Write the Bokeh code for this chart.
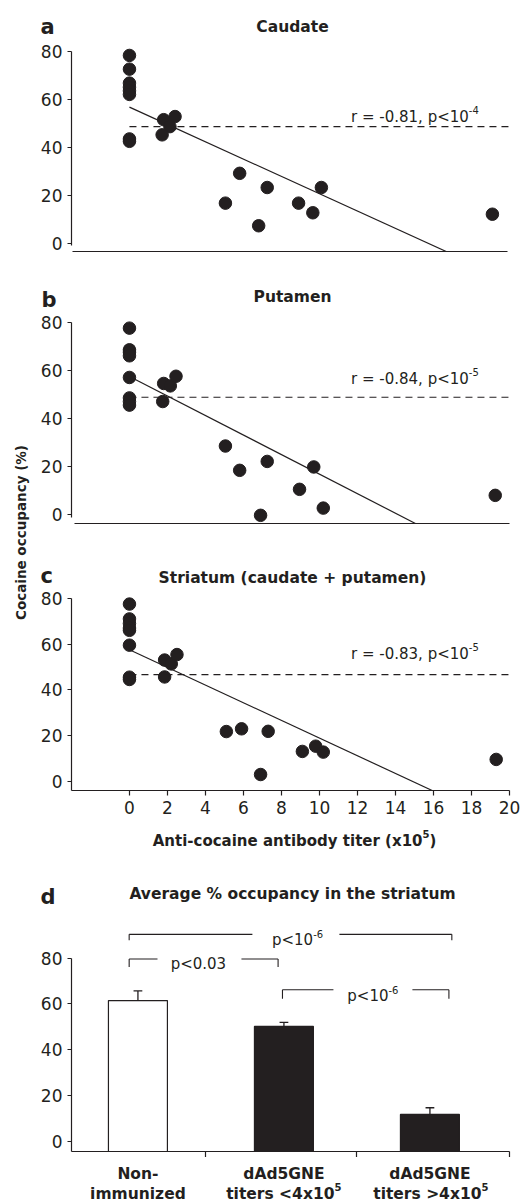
import math
from bokeh.plotting import figure
from bokeh.models import Label, FixedTicker
from bokeh.layouts import column, row
from bokeh.embed import file_html
from bokeh.resources import INLINE

INK = "#231f20"
FONT = "DejaVu Sans"

# ---------------- data: panels a-c ----------------
# x = anti-cocaine antibody titer (x10^5), y = cocaine occupancy (%)
caud_x = [0, 0, 0, 0, 0, 0, 0, 0, 1.8, 2.4, 2.13, 1.72, 5.05, 5.8, 6.8, 7.25, 8.9, 9.65, 10.1, 19.1]
caud_y = [78.2, 72.5, 66.7, 65, 63.5, 62, 43.5, 42.5, 51.5, 52.8, 48.6, 45.2, 16.8, 29.2, 7.4, 23.3, 16.8, 12.8, 23.3, 12.2]
put_x = [0, 0, 0, 0, 0, 0, 0, 0, 1.8, 2.15, 2.45, 1.75, 5.05, 5.8, 6.9, 7.25, 8.95, 9.7, 10.2, 19.25]
put_y = [77.5, 68.5, 67.5, 66, 57, 48.5, 47, 45.5, 54.5, 53.5, 57.5, 47, 28.5, 18.4, -0.3, 22.1, 10.5, 19.8, 2.7, 8.0]
str_x = [0, 0, 0, 0, 0, 0, 0, 0, 1.85, 2.2, 2.5, 1.85, 5.1, 5.9, 6.9, 7.3, 9.1, 9.8, 10.2, 19.3]
str_y = [77.5, 71, 69, 67, 66, 59.5, 45.5, 44.5, 53, 51.3, 55.4, 45.6, 21.7, 22.9, 2.9, 21.8, 13.0, 15.3, 12.7, 9.5]

# regression lines (end points)
fit_a_x = [0, 16.67]
fit_a_y = [56.7, -3.3]
fit_b_x = [0, 15.05]
fit_b_y = [57.4, -3.7]
fit_c_x = [0, 15.93]
fit_c_y = [57.5, -4.1]

# dashed reference level
mean_a = 48.6
mean_b = 48.8
mean_c = 46.6

stat_a = ("r = -0.81, p<10", "-4")
stat_b = ("r = -0.84, p<10", "-5")
stat_c = ("r = -0.83, p<10", "-5")

x_ticks = [0, 2, 4, 6, 8, 10, 12, 14, 16, 18, 20]
y_ticks = [0, 20, 40, 60, 80]

# ---------------- data: panel d ----------------
grp_pos = [0, 1, 2]
grp_line1 = ["Non-", "dAd5GNE", "dAd5GNE"]
grp_line2 = ["immunized", "titers <4x10", "titers >4x10"]
grp_sup = ["", "5", "5"]
bar_vals = [61.5, 50.2, 11.8]
bar_err = [4.2, 1.8, 2.9]
bar_fill = ["white", INK, INK]
grp_bounds = [0.462, 1.5, 2.545]


def label(p, x, y, text, size, bold=False, align="left", baseline="alphabetic",
          angle=0.0, yoff=0):
    p.add_layout(Label(x=x, y=y, text=text,
                       text_font=FONT, text_font_size=f"{size}px",
                       text_font_style="bold" if bold else "normal",
                       text_color=INK, text_align=align, text_baseline=baseline,
                       angle=angle, y_offset=yoff))


def text_fig(w, h, x_range=None, left=0, right=0):
    f = figure(width=w, height=h, x_range=x_range if x_range is not None else (0, w),
               y_range=(0, h), min_border=0, min_border_left=left, min_border_right=right,
               min_border_top=0, min_border_bottom=0,
               x_axis_location=None, y_axis_location=None, frame_align=False,
               output_backend="svg", toolbar_location=None)
    f.grid.visible = False
    f.outline_line_color = None
    return f


def style_y(p, bounds):
    ax = p.yaxis[0]
    ax.ticker = FixedTicker(ticks=y_ticks)
    ax.bounds = bounds
    ax.axis_line_color = INK
    ax.axis_line_width = 1.2
    ax.major_tick_line_color = INK
    ax.major_tick_line_width = 1.2
    ax.major_tick_in = 0
    ax.major_tick_out = 4
    ax.minor_tick_line_color = None
    ax.major_label_standoff = 5
    ax.major_label_text_font = FONT
    ax.major_label_text_font_size = "17px"
    ax.major_label_text_color = INK


def base_fig(width, height, left, bottom, xr, yr, top=0):
    p = figure(width=width, height=height, x_range=xr, y_range=yr,
               min_border_left=left, min_border_right=12,
               min_border_top=top, min_border_bottom=bottom, frame_align=False,
               output_backend="svg", toolbar_location=None)
    p.grid.visible = False
    p.outline_line_color = None
    p.background_fill_color = "white"
    p.border_fill_color = "white"
    return p


def scatter_panel(width, height, left, bottom, yr, xs, ys, fx, fy, mean,
                  xbounds, ybounds, stat, stat_y, show_x=False, top=0):
    p = base_fig(width, height, left, bottom, (-3.05, 20), yr, top=top)
    p.line([0, 20], [mean, mean], line_color=INK, line_width=1.1, line_dash="7 5")
    p.line(fx, fy, line_color=INK, line_width=1.2)
    p.scatter(xs, ys, size=12.5, fill_color=INK, line_color=INK)
    style_y(p, ybounds)
    ax = p.xaxis[0]
    ax.bounds = xbounds
    ax.axis_line_color = INK
    ax.axis_line_width = 1.2
    ax.minor_tick_line_color = None
    if show_x:
        ax.ticker = FixedTicker(ticks=x_ticks)
        ax.major_tick_line_color = INK
        ax.major_tick_line_width = 1.2
        ax.major_tick_in = 0
        ax.major_tick_out = 5
        ax.major_label_standoff = 5
        ax.major_label_text_font = FONT
        ax.major_label_text_font_size = "17px"
        ax.major_label_text_color = INK
    else:
        ax.ticker = FixedTicker(ticks=[])
        ax.major_tick_line_color = None
        ax.major_label_standoff = 0
    label(p, 17.86, stat_y, stat[0], 15, align="right")
    label(p, 17.86, stat_y, stat[1], 10, align="left", yoff=7)
    return p


# ---------------- panel a ----------------
ha = text_fig(521, 41)
label(ha, 40, 15, "a", 21, bold=True)
label(ha, 292, 14.3, "Caudate", 15.5, bold=True, align="center")
fa = scatter_panel(521, 217, 71, 7, (-3.3, 84), caud_x, caud_y, fit_a_x, fit_a_y,
                   mean_a, (-3.0, 19.9), (-1, 80), stat_a, 52.5)

# ---------------- panel b ----------------
hb = text_fig(485, 54)
label(hb, 5, 12.7, "b", 21, bold=True)
label(hb, 256, 15.3, "Putamen", 15.5, bold=True, align="center")
fb = scatter_panel(485, 233, 35, 22, (-3.7, 84), put_x, put_y, fit_b_x, fit_b_y,
                   mean_b, (-2.9, 20), (-1, 80), stat_b, 56.4)

# ---------------- panel c ----------------
hc = text_fig(485, 42)
label(hc, 4, 12, "c", 21, bold=True)
label(hc, 256, 9.3, "Striatum (caudate + putamen)", 15.5, bold=True, align="center")
fc = scatter_panel(485, 233, 35, 30, (-4.1, 83), str_x, str_y, fit_c_x, fit_c_y,
                   mean_c, (-3.05, 20), (-4.1, 80), stat_c, 55.6, show_x=True, top=4)
xc = text_fig(485, 35)
label(xc, 386, 15, "Anti-cocaine antibody titer (x10", 15, bold=True, align="right")
label(xc, 386, 15, "5", 10, bold=True, align="left", yoff=7)
label(xc, 393, 15, ")", 15, bold=True, align="left")

# shared y-axis title for panels b-c
flab = text_fig(36, 597)
label(flab, 20, 323, "Cocaine occupancy (%)", 13.5, bold=True, align="center",
      baseline="middle", angle=math.pi / 2)

# ---------------- panel d ----------------
hd = text_fig(521, 66)
label(hd, 40, 24.3, "d", 21, bold=True)
label(hd, 292, 27.7, "Average % occupancy in the striatum", 15.5, bold=True, align="center")

fd = base_fig(521, 236, 71, 6, (-0.455, 2.545), (-4.4, 96))
fd.vbar(x=grp_pos, top=bar_vals, bottom=-4.4, width=0.404, fill_color=bar_fill,
        line_color=INK, line_width=1.2)
err_top = [v + e for v, e in zip(bar_vals, bar_err)]
fd.segment(x0=grp_pos, y0=bar_vals, x1=grp_pos, y1=err_top, line_color=INK, line_width=1.3)
fd.segment(x0=[g - 0.03 for g in grp_pos], y0=err_top, x1=[g + 0.03 for g in grp_pos],
           y1=err_top, line_color=INK, line_width=1.3)
style_y(fd, (-4.4, 80))
axd = fd.xaxis[0]
axd.ticker = FixedTicker(ticks=[], minor_ticks=grp_bounds)
axd.axis_line_color = INK
axd.axis_line_width = 1.2
axd.major_tick_line_color = None
axd.major_label_standoff = 0
axd.minor_tick_line_color = INK
axd.minor_tick_line_width = 1.2
axd.minor_tick_in = 0
axd.minor_tick_out = 6

# significance brackets: left, right, level, drop, gap start, gap end
br_x0 = [-0.06, -0.06, 0.99]
br_x1 = [2.15, 0.96, 2.13]
br_y = [90.4, 79.6, 66.2]
br_drop = [2.6, 3.5, 3.9]
br_g0 = [0.784, 0.134, 1.339]
br_g1 = [1.38, 0.709, 1.88]
sx0, sy0, sx1, sy1 = [], [], [], []
for a, b, y, d, g0, g1 in zip(br_x0, br_x1, br_y, br_drop, br_g0, br_g1):
    sx0 += [a, g1, a, b]
    sx1 += [g0, b, a, b]
    sy0 += [y, y, y, y]
    sy1 += [y, y, y - d, y - d]
fd.segment(x0=sx0, y0=sy0, x1=sx1, y1=sy1, line_color=INK, line_width=1.1)
label(fd, 1.20, 87.8, "p<10", 15, align="right")
label(fd, 1.20, 87.8, "-6", 10, align="left", yoff=6.5)
label(fd, 0.414, 77.6, "p<0.03", 15, align="center")
label(fd, 1.716, 63.4, "p<10", 15, align="right")
label(fd, 1.716, 63.4, "-6", 10, align="left", yoff=6.5)

# category labels under the bars (share the bar chart's x scale)
gd = text_fig(521, 46, x_range=fd.x_range, left=71, right=12)
grp_split = [0, 1.346, 2.353]
for g, l1, l2, s, sp in zip(grp_pos, grp_line1, grp_line2, grp_sup, grp_split):
    label(gd, g, 29.5, l1, 15.5, bold=True, align="center")
    if s:
        label(gd, sp, 10, l2, 15.5, bold=True, align="right")
        label(gd, sp, 10, s, 10, bold=True, align="left", yoff=7)
    else:
        label(gd, g, 10, l2, 15.5, bold=True, align="center")

layout = column(ha, fa, row(flab, column(hb, fb, hc, fc, xc)), hd, fd, gd)
open("out.html", "w").write(file_html(layout, INLINE))
